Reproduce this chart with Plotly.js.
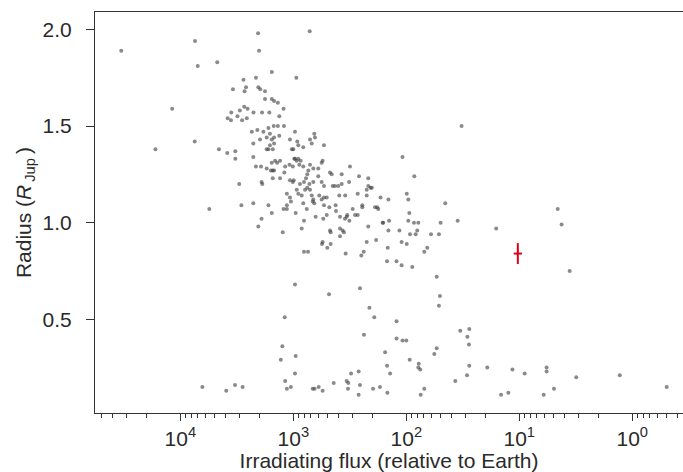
<!DOCTYPE html>
<html>
<head>
<meta charset="utf-8">
<script src="https://cdn.plot.ly/plotly-3.0.1.min.js"></script>
<style>
html,body{margin:0;padding:0;background:#fff;}
#chart{width:683px;height:472px;}
</style>
</head>
<body>
<div id="chart"></div>
<script>
// Irradiating flux (relative to Earth) of known planets
const flux = [
  33300,7410,7010,11800,16600,7460,4710,2760,3420,2620,2700,3540,2970,2720,2540,3810,3560,3120,2840,2580,4550,3840,3260,3260,3010,2880,5540,
  2050,716,2010,1550,940,2140,2040,1960,1780,1780,1550,1480,1370,1220,2250,1890,1630,1330,
  2330,2080,1840,1660,1490,1370,1210,2260,1970,1720,1610,1550,1480,1330,1610,1480,1520,1720,1660,1070,966,922,903,816,711,652,643,687,535,1030,1000,
  2260,2140,1930,1720,1580,1520,1480,1550,1450,1390,1310,1180,1200,1080,1010,980,966,933,903,861,885,816,736,711,665,601,561,550,473,457,
  1910,1880,1520,1310,1070,1010,991,873,804,752,772,721,665,601,561,535,448,428,400,
  1140,1070,933,903,843,787,752,711,687,665,589,561,535,506,392,
  2260,1660,1550,1220,1140,1140,1050,953,816,760,673,652,535,480,422,419,634,543,506,1910,2040,1240,843,804,473,467,550,557,500,467,804,741,966,483,257,
  108,315,373,262,217,321,373,217,207,202,224,84.9,269,347,224,169,144,99.1,96,45.2,245,245,189,181,177,298,284,269,333,337,349,319,386,94,160,142,96,85.5,78.3,49.7,35.1,
  217,386,366,356,386,144,115,92.7,82.6,80,60.4,51.4,224,185,110,99.1,65.2,69.3,146,238,250,344,148,122,110,88.5,162,
  32.4,4.57,4.22,16.0,53.8,3.58,50.4,51.4,122,122,108,100,33.3,27.7,28.8,27.9,154,53.8,56.5,148,139,93.3,77.6,78.3,75.2,
  171,147,74.6,69.3,36.8,27.7,29.0,19.2,11.5,8.96,5.73,5.73,14.5,12.5,6.08,4.93,3.13,1.29,0.496,
  212,192,1190,237,1250,953,1290,966,308,264,1180,1050,1140,439,337,326,328,257,264,197,673,647,596,550,6380,3920,3280,2810
];
// Radius in Jupiter radii
const radius = [
  1.89,1.94,1.81,1.59,1.38,1.42,1.83,1.74,1.69,1.70,1.68,1.57,1.58,1.60,1.59,1.54,1.53,1.55,1.53,1.54,1.38,1.36,1.37,1.33,1.20,1.09,1.07,
  1.98,1.99,1.89,1.78,1.75,1.75,1.70,1.69,1.68,1.64,1.64,1.63,1.62,1.59,1.57,1.57,1.57,1.55,
  1.47,1.48,1.47,1.49,1.50,1.50,1.50,1.41,1.43,1.44,1.46,1.43,1.44,1.45,1.40,1.41,1.38,1.38,1.38,1.43,1.47,1.42,1.40,1.39,1.43,1.46,1.44,1.41,1.40,1.38,1.38,
  1.34,1.29,1.29,1.28,1.27,1.27,1.27,1.31,1.32,1.31,1.32,1.29,1.26,1.30,1.29,1.33,1.33,1.32,1.33,1.32,1.30,1.29,1.27,1.30,1.28,1.28,1.31,1.32,1.26,1.25,
  1.21,1.20,1.23,1.23,1.22,1.21,1.22,1.20,1.21,1.25,1.23,1.20,1.21,1.24,1.21,1.19,1.19,1.19,1.19,
  1.15,1.13,1.17,1.15,1.14,1.17,1.18,1.17,1.14,1.12,1.14,1.12,1.13,1.13,1.14,
  1.10,1.09,1.05,1.07,1.07,1.09,1.11,1.05,1.10,1.07,1.11,1.10,1.09,1.08,1.09,1.06,1.03,1.02,1.04,1.02,0.98,0.95,0.97,1.01,0.96,0.95,0.90,0.89,0.87,0.89,0.85,0.85,0.68,0.63,0.66,
  1.34,1.29,1.25,1.24,1.23,1.21,1.20,1.19,1.18,1.18,1.17,1.24,1.15,1.14,1.14,1.13,1.12,1.15,1.12,1.10,1.09,1.08,1.08,1.08,1.07,1.07,1.04,1.04,1.04,1.03,1.02,1.01,1.03,1.05,1.00,1.01,1.01,1.00,1.00,1.00,1.01,
  0.98,0.97,0.96,0.95,0.93,0.96,0.96,0.94,0.94,0.96,0.94,0.94,0.90,0.91,0.90,0.89,0.87,0.85,0.87,0.85,0.83,0.84,0.80,0.80,0.78,0.77,1.00,
  1.50,1.07,0.99,0.97,0.72,0.75,0.62,0.57,0.49,0.40,0.39,0.39,0.44,0.45,0.41,0.37,0.33,0.35,0.32,0.26,0.22,0.29,0.27,0.25,0.24,
  0.15,0.12,0.11,0.14,0.18,0.26,0.21,0.25,0.24,0.22,0.25,0.23,0.11,0.12,0.11,0.14,0.20,0.21,0.15,
  0.56,0.51,0.51,0.42,0.36,0.31,0.29,0.22,0.22,0.23,0.18,0.15,0.14,0.17,0.18,0.17,0.14,0.16,0.11,0.14,0.14,0.14,0.15,0.13,0.15,0.13,0.16,0.15
];
// Highlighted planet with error bars
const planetFlux = [10.3];
const planetRadius = [0.84];
const planetRadiusErr = [0.054];
const planetFluxErrPlus = [0.9];
const planetFluxErrMinus = [0.83];

// Axis tick labels
const xTickVals = [1e4, 1e3, 1e2, 1e1, 1e0];
const xTickText = ['10<sup>4</sup>', '10<sup>3</sup>', '10<sup>2</sup>', '10<sup>1</sup>', '10<sup>0</sup>'];
const yTickVals = [0.5, 1.0, 1.5, 2.0];

const minorVals = [];
for (let d = -1; d <= 4; d++) {
  for (let m = 2; m <= 9; m++) minorVals.push(m * Math.pow(10, d));
}

const FONT = 'Liberation Sans, Arial, Helvetica, sans-serif';
const TXT = '#2a2a2a';
const LINE = '#333';

const traces = [
  {
    type: 'scatter', mode: 'markers',
    x: flux, y: radius,
    marker: {size: 4, color: 'rgba(60,60,60,0.6)', line: {width: 0}},
    hoverinfo: 'skip'
  },
  {
    type: 'scatter', mode: 'markers',
    x: planetFlux, y: planetRadius,
    marker: {size: 1, color: 'rgba(0,0,0,0)'},
    error_y: {type: 'data', array: planetRadiusErr, visible: true, thickness: 2, width: 0, color: '#dd0016'},
    error_x: {type: 'data', array: planetFluxErrPlus, arrayminus: planetFluxErrMinus, symmetric: false, visible: true, thickness: 2, width: 0, color: '#dd0016'},
    hoverinfo: 'skip'
  }
];

const layout = {
  width: 683, height: 472,
  margin: {l: 95, r: 0, t: 12, b: 59},
  paper_bgcolor: '#fff', plot_bgcolor: '#fff',
  showlegend: false,
  font: {family: FONT, size: 21, color: TXT},
  xaxis: {
    type: 'log',
    range: [4.755, -0.449],
    tickmode: 'array', tickvals: xTickVals, ticktext: xTickText,
    ticks: 'outside', ticklen: 7, tickwidth: 1, tickcolor: LINE,
    minor: {tickmode: 'array', tickvals: minorVals, ticks: 'outside', ticklen: 4, tickwidth: 1, tickcolor: LINE, showgrid: false},
    showline: true, linecolor: LINE, linewidth: 1, mirror: true,
    showgrid: false, zeroline: false,
    tickfont: {family: FONT, size: 21, color: TXT},
    title: {text: 'Irradiating flux (relative to Earth)', font: {family: FONT, size: 21, color: TXT}, standoff: 4}
  },
  yaxis: {
    range: [0.015, 2.09],
    tickmode: 'array', tickvals: yTickVals, tickformat: '.1f',
    ticks: 'outside', ticklen: 8, tickwidth: 1, tickcolor: LINE,
    ticklabelstandoff: 10,
    showline: true, linecolor: LINE, linewidth: 1, mirror: false,
    showgrid: false, zeroline: false,
    tickfont: {family: FONT, size: 21, color: TXT},
    title: {text: 'Radius (<i>R</i><sub>\u2009Jup</sub>\u2009)', font: {family: FONT, size: 21, color: TXT}, standoff: 5}
  }
};

Plotly.newPlot('chart', traces, layout, {staticPlot: true, displayModeBar: false});
</script>
</body>
</html>
